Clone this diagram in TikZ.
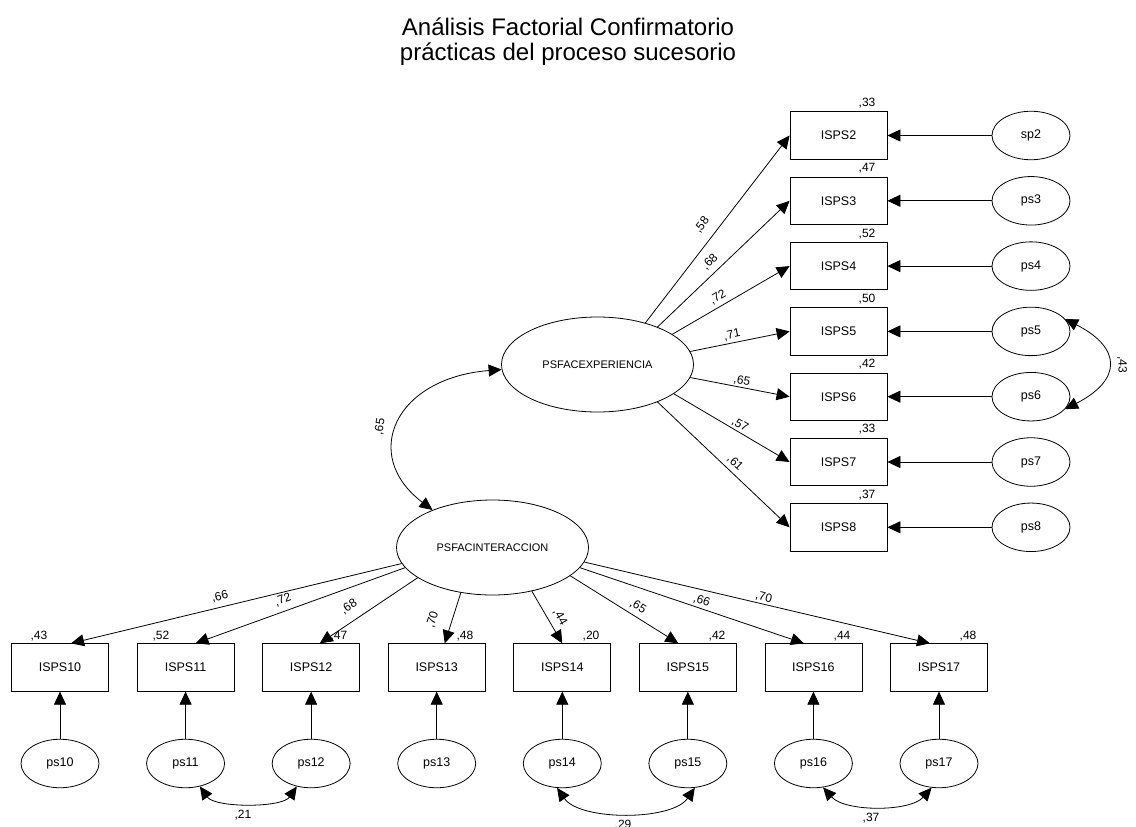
\documentclass[tikz,border=0pt]{standalone}
\usepackage{fontspec}
\setmainfont{Liberation Sans}
\usetikzlibrary{arrows.meta,calc,shapes.geometric}

\begin{document}
\begin{tikzpicture}[x=1pt,y=-1pt,
  every node/.style={inner sep=0pt},
  obs/.style={draw,line width=0.8pt,minimum width=97pt,minimum height=47.5pt,
    font=\fontsize{12.5}{14}\selectfont},
  lat/.style={draw,ellipse,line width=0.8pt,minimum width=192pt,minimum height=95pt,
    font=\fontsize{11}{13}\selectfont},
  err/.style={draw,ellipse,line width=0.8pt,minimum width=78pt,minimum height=48.5pt,
    font=\fontsize{12.5}{14}\selectfont},
  num/.style={font=\fontsize{12}{14}\selectfont},
  ttl/.style={font=\fontsize{24}{26}\selectfont,anchor=base},
  link/.style={line width=0.8pt,-{Triangle[length=13pt,width=12pt]}},
  cov/.style={line width=0.8pt,{Triangle[length=13pt,width=12pt]}-{Triangle[length=13pt,width=12pt]}},
]
% page frame
\fill[white] (0,0) rectangle (1136,827);
\useasboundingbox (0,0) rectangle (1136,827);

% title
\node[ttl] (t1) at (568,35) {Análisis Factorial Confirmatorio};
\node[ttl] (t2) at (568,60.7) {prácticas del proceso sucesorio};

% latent factors
\node[lat] (E) at (597.5,364.5) {PSFACEXPERIENCIA};
\node[lat] (I) at (492.5,547.5) {PSFACINTERACCION};

% indicators of the first factor and their errors
\foreach \i/\e [count=\k from 0] in {2/sp2,3/ps3,4/ps4,5/ps5,6/ps6,7/ps7,8/ps8}{
  \node[obs] (B\i) at (838.5,135.5+65.3*\k) {ISPS\i};
  \node[err] (e\i) at (1031,135.5+65.3*\k) {\e};
  \draw[link] (e\i.west) -- (B\i.east);
}

% indicators of the second factor and their errors
\foreach \i [count=\k from 0] in {10,...,17}{
  \node[obs] (B\i) at (60+125.57*\k,667.5) {ISPS\i};
  \node[err] (e\i) at (60+125.57*\k,763.5) {ps\i};
  \draw[link] (e\i.north) -- (B\i.south);
}

% loadings
\foreach \i/\a in {2/41,3/32,4/22,5/8,6/352,7/339,8/328}
  \draw[link] (E.\a) -- (B\i.west);
\foreach \i/\a/\d in {10/190/11,11/193/10,12/202/8.6,13/235/8,14/312/0,15/340/-9.5,16/347/-9.5,17/351/-9}
  \draw[link] (I.\a) -- ($(B\i.north)+(\d,0)$);

% covariances
\draw[cov] (E.183) .. controls (395,378) and (360,455) .. (I.148);
\draw[cov] (e5.20) .. controls (1122,348) and (1122,380) .. (e6.340);
\draw[cov] (e11.302) .. controls (215,808) and (282,808) .. (e12.238);
\draw[cov] (e14.258) .. controls (580,821) and (672,821) .. (e15.286);
\draw[cov] (e16.292) .. controls (845,812) and (910,812) .. (e17.253);

% covariance estimates
\node[num,rotate=80] (c1) at (380,427) {,65};
\node[num,rotate=-90] (c2) at (1122,365) {,43};
\node[num] (c3) at (243,815) {,21};
\node[num,anchor=base] (c4) at (623,828.6) {,29};
\node[num] (c5) at (871,818) {,37};

% squared multiple correlations
\foreach \i/\v [count=\k from 0] in {2/{,33},3/{,47},4/{,52},5/{,50},6/{,42},7/{,33},8/{,37}}
  \node[num] (r\i) at (867,103+65.3*\k) {\v};
\foreach \i/\v/\x in {10/{,43}/39,11/{,52}/161,12/{,47}/339,13/{,48}/465,14/{,20}/591,15/{,42}/717,16/{,44}/842,17/{,48}/968}
  \node[num] (r\i) at (\x,635.7) {\v};

% standardized loadings
\node[num,rotate=52]  (w2) at (702,225) {,58};
\node[num,rotate=44]  (w3) at (710,262) {,68};
\node[num,rotate=30]  (w4) at (718,297) {,72};
\node[num,rotate=12]  (w5) at (732,335) {,71};
\node[num,rotate=-11] (w6) at (742,381) {,65};
\node[num,rotate=-30] (w7) at (740,425) {,57};
\node[num,rotate=-43] (w8) at (735,463) {,61};
\node[num,rotate=13.6]  (w10) at (220,596.7) {,66};
\node[num,rotate=19.8]  (w11) at (283,600) {,72};
\node[num,rotate=33.4]  (w12) at (349,606.7) {,68};
\node[num,rotate=72.6]  (w13) at (432.5,620) {,70};
\node[num,rotate=-60.4] (w14) at (560,617) {,44};
\node[num,rotate=-31.8] (w15) at (638,606.7) {,65};
\node[num,rotate=-18.7] (w16) at (701.6,601) {,66};
\node[num,rotate=-13.1] (w17) at (763.7,597.3) {,70};
\end{tikzpicture}
\end{document}
